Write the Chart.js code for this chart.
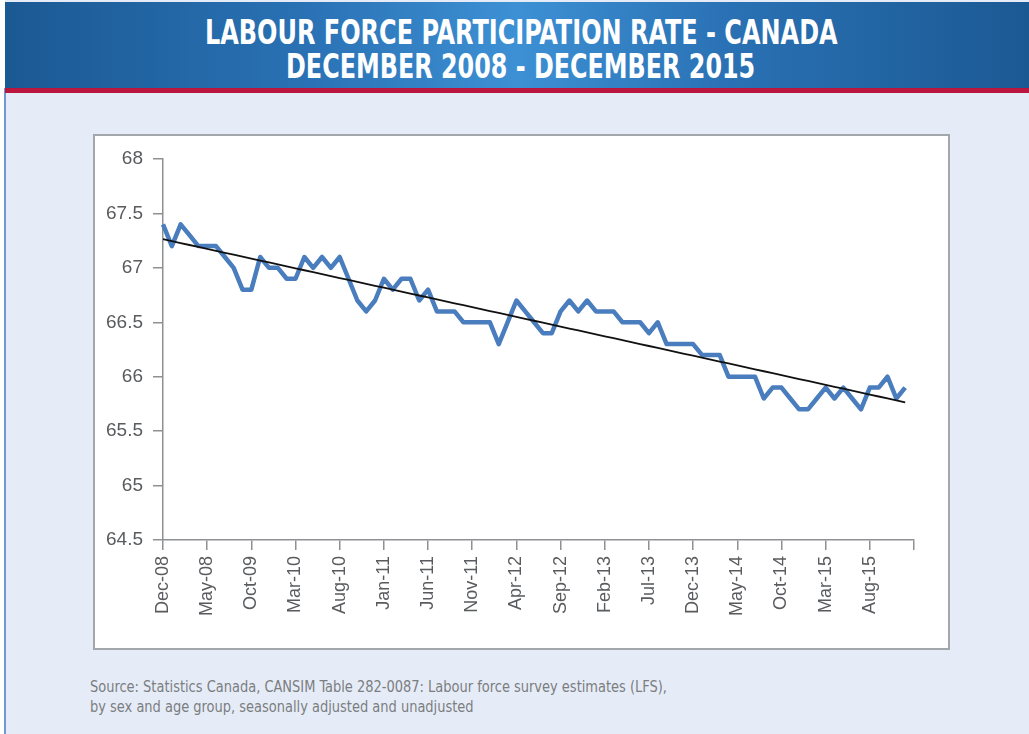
<!DOCTYPE html>
<html>
<head>
<meta charset="utf-8">
<script src="https://cdn.jsdelivr.net/npm/chart.js@4.4.1/dist/chart.umd.min.js"></script>
<style>
  body { margin: 0; width: 1029px; height: 734px; overflow: hidden; background: #fff; position: relative; font-family: "Liberation Sans", Arial, sans-serif; }
  #page { position: absolute; left: 5px; top: 0; width: 1024px; height: 734px; background: #e5ecf7; }
  #edge { position: absolute; left: 4px; top: 88px; width: 2px; height: 646px; background: #6f9bd2; }
  #banner { position: absolute; left: 5px; top: 2px; width: 1024px; height: 86px;
    background: linear-gradient(to right, #1b5993 0%, #2a72b5 30%, #3d90d4 50%, #2a72b5 70%, #1b5993 100%); }
  #redbar { position: absolute; left: 5px; top: 88px; width: 1024px; height: 5px; background: #b9173d; }
  .title { position: absolute; left: 0; width: 1042px; text-align: center; color: #fff; font-weight: bold;
    font-family: "Liberation Sans Narrow", "DejaVu Sans Condensed", "Liberation Sans", sans-serif; font-size: 34px; line-height: 34px; white-space: nowrap; }
  .title span, .src span { display: inline-block; }
  #t1 { top: 15px; }
  #t2 { top: 49px; }
  #box { position: absolute; left: 93px; top: 134px; width: 857px; height: 516px; box-sizing: border-box; border: 2px solid #a3a6ab; background: #fff; }
  #chart { position: absolute; left: 95px; top: 136px; }
  .src { position: absolute; left: 90px; color: #7b7d80; font-size: 16px; line-height: 20px; white-space: nowrap;
    font-family: "Liberation Sans Narrow", "DejaVu Sans Condensed", "Liberation Sans", sans-serif; }
  .src span { transform-origin: left center; }
  #s1 { top: 677px; }
  #s2 { top: 697px; }
</style>
</head>
<body>
<div id="page"></div>
<div id="edge"></div>
<div id="banner"></div>
<div id="redbar"></div>
<div class="title" id="t1"><span>LABOUR FORCE PARTICIPATION RATE - CANADA</span></div>
<div class="title" id="t2"><span>DECEMBER 2008 - DECEMBER 2015</span></div>
<div id="box"></div>
<canvas id="chart" width="853" height="512"></canvas>
<div class="src" id="s1"><span>Source: Statistics Canada, CANSIM Table 282-0087: Labour force survey estimates (LFS),</span></div>
<div class="src" id="s2"><span>by sex and age group, seasonally adjusted and unadjusted</span></div>
<script>
// monthly participation rate, Dec 2008 .. Dec 2015
const rate = [
  67.4, 67.2, 67.4, 67.3, 67.2, 67.2, 67.2, 67.1, 67.0, 66.8,
  66.8, 67.1, 67.0, 67.0, 66.9, 66.9, 67.1, 67.0, 67.1, 67.0,
  67.1, 66.9, 66.7, 66.6, 66.7, 66.9, 66.8, 66.9, 66.9, 66.7,
  66.8, 66.6, 66.6, 66.6, 66.5, 66.5, 66.5, 66.5, 66.3, 66.5,
  66.7, 66.6, 66.5, 66.4, 66.4, 66.6, 66.7, 66.6, 66.7, 66.6,
  66.6, 66.6, 66.5, 66.5, 66.5, 66.4, 66.5, 66.3, 66.3, 66.3,
  66.3, 66.2, 66.2, 66.2, 66.0, 66.0, 66.0, 66.0, 65.8, 65.9,
  65.9, 65.8, 65.7, 65.7, 65.8, 65.9, 65.8, 65.9, 65.8, 65.7,
  65.9, 65.9, 66.0, 65.8, 65.9
];

// tick labels as printed, one every 5 months (the axis ends on an unlabelled tick)
const tickLabels = ['Dec-08', 'May-08', 'Oct-09', 'Mar-10', 'Aug-10', 'Jan-11', 'Jun-11', 'Nov-11', 'Apr-12',
  'Sep-12', 'Feb-13', 'Jul-13', 'Dec-13', 'May-14', 'Oct-14', 'Mar-15', 'Aug-15', ''];

// y axis labels, top to bottom
const yLabels = ['68', '67.5', '67', '66.5', '66', '65.5', '65', '64.5'];

const monthNames = ['Jan', 'Feb', 'Mar', 'Apr', 'May', 'Jun', 'Jul', 'Aug', 'Sep', 'Oct', 'Nov', 'Dec'];
const months = [];
for (let i = 0; i <= rate.length; i++) {
  const m = (11 + i) % 12;
  const y = 2008 + Math.floor((11 + i) / 12);
  months.push(monthNames[m] + '-' + String(y).slice(2));
}

// linear trend line (least squares)
const n = rate.length;
let sx = 0, sy = 0, sxy = 0, sxx = 0;
rate.forEach((v, i) => { sx += i; sy += v; sxy += i * v; sxx += i * i; });
const slope = (n * sxy - sx * sy) / (n * sxx - sx * sx);
const icpt = (sy - slope * sx) / n;
const trend = rate.map((v, i) => icpt + slope * i);

// squeeze the condensed headings to their printed widths
function fit(el, w) {
  el.style.transform = 'scaleX(' + (w / el.offsetWidth) + ')';
  return w / el.offsetWidth;
}
fit(document.querySelector('#t1 span'), 633);
fit(document.querySelector('#t2 span'), 469);
const k = fit(document.querySelector('#s1 span'), 577);
document.querySelector('#s2 span').style.transform = 'scaleX(' + k + ')';

const axisGrey = '#8e9094';
const tickFont = { family: '"Liberation Sans", Arial, sans-serif', size: 18 };

new Chart(document.getElementById('chart'), {
  type: 'line',
  data: {
    labels: months,
    datasets: [
      {
        label: 'Trend',
        data: trend,
        borderColor: '#111',
        borderWidth: 1.8,
        pointRadius: 0,
        tension: 0
      },
      {
        label: 'Participation rate',
        data: rate,
        borderColor: '#4a7dbd',
        borderWidth: 4.5,
        borderJoinStyle: 'round',
        pointRadius: 0,
        tension: 0
      }
    ]
  },
  options: {
    responsive: false,
    animation: false,
    devicePixelRatio: 1,
    layout: { padding: { top: 23, right: 34, left: 0, bottom: 0 } },
    plugins: { legend: { display: false }, tooltip: { enabled: false } },
    scales: {
      x: {
        offset: false,
        afterFit: s => { s.height = 108; },
        border: { display: true, color: axisGrey, width: 1.5 },
        grid: { display: true, drawOnChartArea: false, drawTicks: true, tickLength: 10, color: axisGrey, lineWidth: 1.5 },
        ticks: {
          autoSkip: false,
          minRotation: 90,
          maxRotation: 90,
          padding: 6,
          color: '#595b5e',
          font: tickFont,
          callback: (v, i) => (i % 5 === 0 ? tickLabels[i / 5] : null)
        }
      },
      y: {
        min: 64.5,
        max: 68,
        afterFit: s => { s.width = 68; },
        border: { display: true, color: axisGrey, width: 1.5 },
        grid: { display: true, drawOnChartArea: false, drawTicks: true, tickLength: 10, color: axisGrey, lineWidth: 1.5 },
        ticks: {
          stepSize: 0.5,
          padding: 10,
          color: '#595b5e',
          font: { family: '"Liberation Sans", Arial, sans-serif', size: 19 },
          callback: (v, i, all) => yLabels[all.length - 1 - i]
        }
      }
    }
  }
});
</script>
</body>
</html>
